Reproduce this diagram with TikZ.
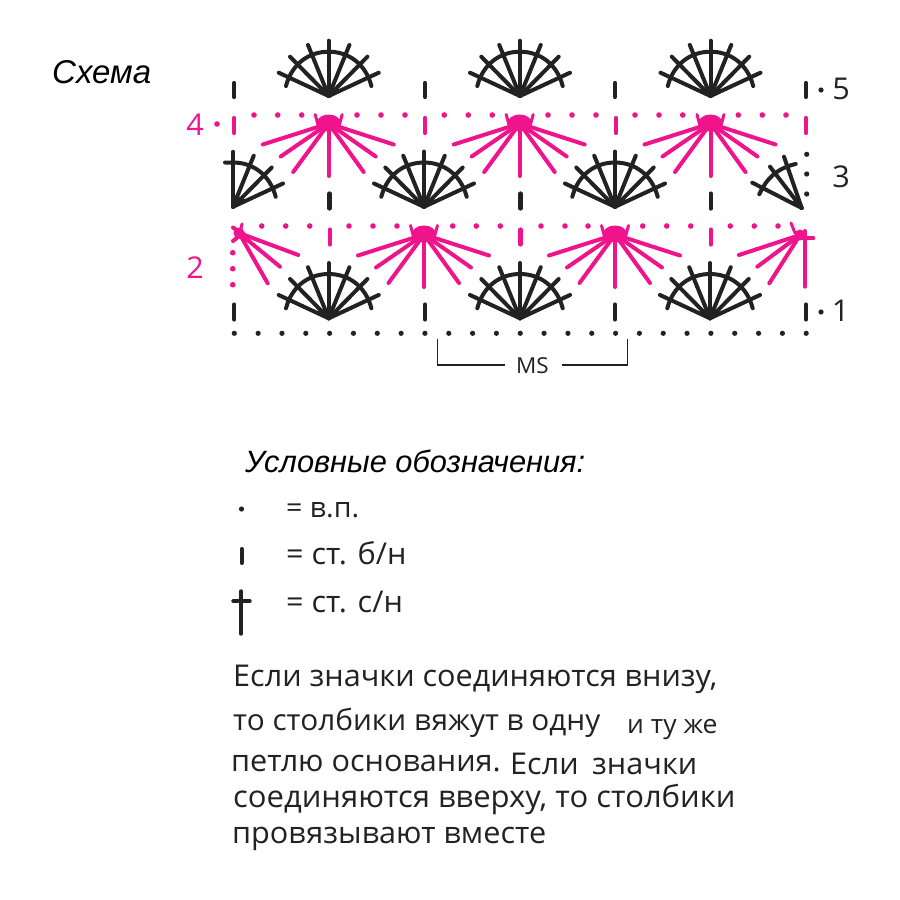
\documentclass[tikz,border=0pt]{standalone}
\usepackage{fontspec}
\setmainfont{Liberation Sans}
\newfontfamily\gothfont[FakeStretch=1.02]{Open Sans}
\definecolor{pinkc}{HTML}{F0148C}
\definecolor{blackc}{HTML}{222222}
\tikzset{
  st/.style={line width=4pt,line cap=round,blackc},
  pk/.style={line width=4pt,line cap=round,pinkc},
  pkt/.style={line width=3pt,line cap=round,pinkc},
  tick/.style={line width=4.2pt,line cap=round,blackc},
  ptick/.style={line width=4.2pt,line cap=round,pinkc},
  kdot/.style={circle,fill=blackc,inner sep=0pt,minimum size=5.2pt},
  pdot/.style={circle,fill=pinkc,inner sep=0pt,minimum size=5.6pt},
  lab/.style={inner sep=0pt,anchor=base west,text=blackc},
  num/.style={inner sep=0pt,font=\gothfont\fontsize{30}{30}\selectfont},
}
% full black fan with apex at #1,#2
\newcommand{\bfan}[2]{\begin{scope}[shift={(#1,#2)}]
  \fill[blackc] (-14,-7) -- (0,0.8) -- (14,-7) -- cycle;
  \foreach \a/\b in {-50/-23.3,-38.7/-39.3,-20.7/-51,0/-55.3,20.7/-51,38.7/-39.3,50/-23.3}
    {\draw[st] (0,0) -- (\a,\b);}
  \draw[st] (-42.7,-10) .. controls (-37,-32) and (-20,-44.3) .. (0,-44.3) .. controls (20,-44.3) and (37,-32) .. (42.7,-10);
\end{scope}}
% full pink fan with blob centre at #1,#2
\newcommand{\pfan}[2]{\begin{scope}[shift={(#1,#2)}]
  \foreach \a/\b in {-66/21,-48/33,-35.5/48.5,0/52.5,35/48.5,47/33,65/21}
    {\draw[pk] (0,0) -- (\a,\b);}
  \fill[pinkc] (0,-0.5) ellipse (12pt and 8.5pt);
  \draw[pkt] (-13.5,-9) -- (-10.5,2);
  \draw[pkt] (13.5,-9) -- (10.5,2);
\end{scope}}
\begin{document}
\begin{tikzpicture}[x=1pt,y=-1pt]
\useasboundingbox (0,0) rectangle (900,900);
\fill[white] (0,0) rectangle (900,900);
% top texts
\node[lab,font=\itshape\fontsize{33}{33}\selectfont,text=black] (title) at (52,83) {Схема};
% black fans
\foreach \x in {328.7,520,710.5} {\bfan{\x}{96}}
\foreach \x in {328.7,520,710} {\bfan{\x}{318.3}}
\foreach \x in {424,615} {\bfan{\x}{206.8}}
% left partial black fan
\begin{scope}[shift={(233,206.8)}]
  \fill[blackc] (-2,0.8) -- (-2,-13) -- (14,-7) -- cycle;
  \foreach \a/\b in {0/-55,20.7/-51,38.7/-39.3,50/-23.3}
    {\draw[st] (0,0) -- (\a,\b);}
  \draw[st] (-8,-44.3) -- (0,-44.3) .. controls (20,-44.3) and (37,-32) .. (42.7,-10);
\end{scope}
% right partial black fan
\begin{scope}[shift={(801.7,208)}]
  \fill[blackc] (0,0) -- (-10,-6) -- (-3,-10) -- cycle;
  \foreach \a/\b in {-49.4/-25.3,-31.7/-41.3,-17.7/-51.3}
    {\draw[st] (0,0) -- (\a,\b);}
  \draw[st] (-42.4,-13.7) .. controls (-35,-30) and (-24,-40) .. (-6,-44);
\end{scope}
% pink fans
\foreach \x in {328.7,519.7,710.5} {\pfan{\x}{123.5}}
\foreach \x in {424,615} {\pfan{\x}{234.5}}
% left partial pink fan
\begin{scope}[shift={(239,233)}]
  \foreach \a/\b in {59.3/22,41/33.7,28.7/50.3}
    {\draw[pk] (0,0) -- (\a,\b);}
  \draw[pk] (-6,-5.5) -- (5,2);
  \draw[pk] (-6,8) -- (4,0);
  \draw[pkt] (3,-9) -- (0,4);
  \fill[pinkc] (0,0) circle (5.5pt);
\end{scope}
% right partial pink fan
\begin{scope}[shift={(800,235)}]
  \foreach \a/\b in {-61/20,-42.7/31.7,-30.7/48.3}
    {\draw[pk] (0,0) -- (\a,\b);}
  \draw[pk] (5,-4) -- (5,51.7);
  \draw[pk] (-6,3.3) -- (13.3,3.3);
  \draw[pkt] (-9,-12) -- (-5,-2);
  \fill[pinkc] (0,0) circle (5.5pt);
\end{scope}
% black ticks
\foreach \x in {234.3,425,615,806}{
  \draw[tick] (\x,83) -- (\x,97);
  \draw[tick] (\x,304.5) -- (\x,319.5);
}
\foreach \x in {329.5,520.5,710.7}
  {\draw[tick] (\x,193.5) -- (\x,208.5);}
% pink ticks
\foreach \x in {234.3,425,616,806}
  {\draw[ptick] (\x,118) -- (\x,133);}
\foreach \x in {329.7,520.5,710.7}
  {\draw[ptick] (\x,229.5) -- (\x,244.5);}
% dots
\foreach \x in {254,277.7,301.7,357,381,405,444.3,468.3,492.3,548,572,596,635,659,682.7,738.3,762.3,786}
  {\node[pdot] at (\x,115) {};}
\foreach \x in {261.7,285.7,309.7,349,373,397,452.7,476.3,500.3,541,565,588,642.7,666.7,690.7,730.3,754.3,778}
  {\node[pdot] at (\x,226) {};}
\foreach \y in {252.7,268.7,284.7}
  {\node[pdot] at (232.7,\y) {};}
\foreach \y in {154.3,174,194}
  {\node[kdot] at (806.7,\y) {};}
\foreach \i in {0,...,24}
  {\node[kdot] at ({234.3+23.83*\i},333.3) {};}
% row numbers
\node[num,text=pinkc] (r4) at (195,125) {4};
\node[pdot] (r4d) at (217,124) {};
\node[num,text=pinkc] (r2) at (195,268) {2};
\node[kdot] (r5d) at (821,90) {};
\node[num,text=blackc] (r5) at (841,89) {5};
\node[num,text=blackc] (r3) at (841,176.5) {3};
\node[kdot] (r1d) at (821,312) {};
\node[num,text=blackc] (r1) at (840.5,311) {1};
% bracket
\node[inner sep=0pt,text=blackc,font=\gothfont\fontsize{22}{22}\selectfont] (ms) at (532.5,365.5) {MS};
\draw[line width=1.5pt,blackc] (437.3,339.3) -- (437.3,365) -- (505,365);
\draw[line width=1.5pt,blackc] (627.7,339.3) -- (627.7,365) -- (561.7,365);
% legend
\node[lab,font=\itshape\fontsize{30.8}{31}\selectfont,text=black] (lt) at (245,472) {Условные обозначения:};
\node[kdot] (l1) at (241.5,509) {};
\draw[line width=4pt,line cap=round,blackc] (241.5,549) -- (241.5,563);
\draw[line width=3.4pt,line cap=round,blackc] (241,591) -- (241,634);
\draw[line width=3.4pt,line cap=round,blackc] (233,601) -- (250,601);
\node[lab,font=\gothfont\fontsize{28}{28}\selectfont] (l1t) at (286,517) {= в.п.};
\node[lab,font=\gothfont\fontsize{30}{30}\selectfont] (l2t) at (286,564) {= ст. б/н};
\node[lab,font=\gothfont\fontsize{30}{30}\selectfont] (l3t) at (286,612) {= ст. с/н};
% paragraph
\begin{scope}[every node/.style={lab,font=\gothfont\fontsize{30}{30}\selectfont}]
\node (p1) at (233,686) {Если значки соединяются внизу,};
\node[font=\gothfont\fontsize{29.2}{30}\selectfont] (p2) at (233,730) {то столбики вяжут в одну};
\node[font=\gothfont\fontsize{26}{30}\selectfont] (p2b) at (627,733) {и ту же};
\node (p3) at (231,771.7) {петлю основания.};
\node (p3b) at (510,774) {Если};
\node (p3c) at (592,774) {значки};
\node[font=\gothfont\fontsize{30.4}{30}\selectfont] (p4) at (233,807) {соединяются вверху, то столбики};
\node (p5) at (232,843) {провязывают вместе};
\end{scope}
\end{tikzpicture}
\end{document}
